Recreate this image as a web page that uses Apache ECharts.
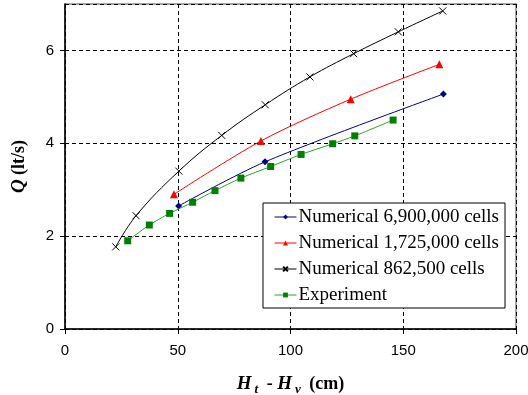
<!DOCTYPE html>
<html><head><meta charset="utf-8">
<script src="https://cdn.jsdelivr.net/npm/echarts@6/dist/echarts.min.js"></script>
<style>html,body{margin:0;padding:0;background:#fff}#c{width:528px;height:395px}</style>
</head><body><div id="c"></div>
<script>
const xTicks = [0, 50, 100, 150, 200];
const yTicks = [0, 2, 4, 6];
const seriesNames = ['Numerical 6,900,000 cells', 'Numerical 1,725,000 cells', 'Numerical 862,500 cells', 'Experiment'];
const num6900k = [[50.4, 2.65], [88.7, 3.60], [167.8, 5.06]];
const num1725k = [[48.3, 2.90], [86.9, 4.05], [126.7, 4.95], [166.0, 5.70]];
const num862k = [[22.5, 1.77], [31.5, 2.44], [50.5, 3.40], [69.5, 4.17], [88.8, 4.83], [108.6, 5.43], [128.0, 5.93], [147.8, 6.40], [167.5, 6.85]];
const experiment = [[27.8, 1.90], [37.4, 2.24], [46.4, 2.49], [56.6, 2.73], [66.5, 2.98], [78.0, 3.25], [91.2, 3.50], [104.7, 3.76], [118.7, 3.99], [128.5, 4.16], [145.5, 4.50]];

const chart = echarts.init(document.getElementById('c'));
const serif = '"Liberation Serif", "DejaVu Serif", serif';
const sans = '"Liberation Sans", Arial, sans-serif';
const crossPath = 'path://M0,0L10,10M10,0L0,10';
chart.setOption({
  animation: false,
  grid: { left: 65, right: 12, top: 4, bottom: 66, show: true, borderColor: '#888', borderWidth: 1.5,
    backgroundColor: 'transparent', outerBoundsMode: 'none', containLabel: false },
  legend: {
    right: 23, top: 203, orient: 'vertical', itemGap: 6,
    backgroundColor: '#fff', borderColor: '#000', borderWidth: 1,
    padding: [4, 6, 3, 11], itemWidth: 22, itemHeight: 6,
    textStyle: { fontFamily: serif, fontSize: 19, lineHeight: 20, color: '#000', padding: [0, 0, 0, -3] },
    data: seriesNames.map(n => ({ name: n, itemStyle: {}, lineStyle: { width: 1 } }))
  },
  xAxis: {
    type: 'value', min: 0, max: 200, interval: 50,
    name: '{i|H}{s|t}{n| - }{i|H}{s|v}{n| (cm)}', nameLocation: 'middle', nameGap: 44,
    nameTextStyle: {
      rich: {
        i: { fontFamily: serif, fontSize: 19, fontWeight: 'bold', fontStyle: 'italic', color: '#000' },
        s: { fontFamily: serif, fontSize: 13, fontWeight: 'bold', fontStyle: 'italic', color: '#000', padding: [10, 4, 0, 3] },
        n: { fontFamily: serif, fontSize: 18, fontWeight: 'bold', color: '#000' }
      }
    },
    axisLine: { show: true, lineStyle: { color: '#000', width: 1.5 } },
    axisTick: { show: true, inside: false, length: 5, lineStyle: { color: '#000' } },
    axisLabel: { fontFamily: sans, fontSize: 15, color: '#000', margin: 14 },
    splitLine: { show: true, lineStyle: { color: '#000', type: [4, 3], width: 1 } }
  },
  yAxis: {
    type: 'value', min: 0, max: 7, interval: 2,
    name: '{i|Q}{n| (lt/s)}', nameLocation: 'middle', nameGap: 36,
    nameTextStyle: {
      rich: {
        i: { fontFamily: serif, fontSize: 19, fontWeight: 'bold', fontStyle: 'italic', color: '#000' },
        n: { fontFamily: serif, fontSize: 18, fontWeight: 'bold', color: '#000' }
      }
    },
    axisLine: { show: true, lineStyle: { color: '#000', width: 1.5 } },
    axisTick: { show: true, inside: false, length: 5, lineStyle: { color: '#000' } },
    axisLabel: { fontFamily: sans, fontSize: 15, color: '#000', margin: 11, showMaxLabel: false },
    splitLine: { show: true, lineStyle: { color: '#000', type: [4, 3], width: 1 } }
  },
  series: [
    { name: seriesNames[0], type: 'line', data: num6900k, smooth: 0.3, symbol: 'diamond', symbolSize: 7,
      lineStyle: { color: '#00008b', width: 1 }, itemStyle: { color: '#00008b' }, z: 4 },
    { name: seriesNames[1], type: 'line', data: num1725k, smooth: 0.3, symbol: 'triangle', symbolSize: 8,
      lineStyle: { color: '#ff0000', width: 1 }, itemStyle: { color: '#ff0000' }, z: 3 },
    { name: seriesNames[2], type: 'line', data: num862k, smooth: 0.4, symbol: crossPath, symbolSize: 7,
      lineStyle: { color: '#000', width: 1 }, itemStyle: { color: 'none', borderColor: '#000', borderWidth: 1 }, z: 2 },
    { name: seriesNames[3], type: 'line', data: experiment, smooth: 0.3, symbol: 'rect', symbolSize: 7,
      lineStyle: { color: '#2ca02c', width: 1 }, itemStyle: { color: '#008000' }, z: 5 }
  ]
});
</script>
</body></html>
